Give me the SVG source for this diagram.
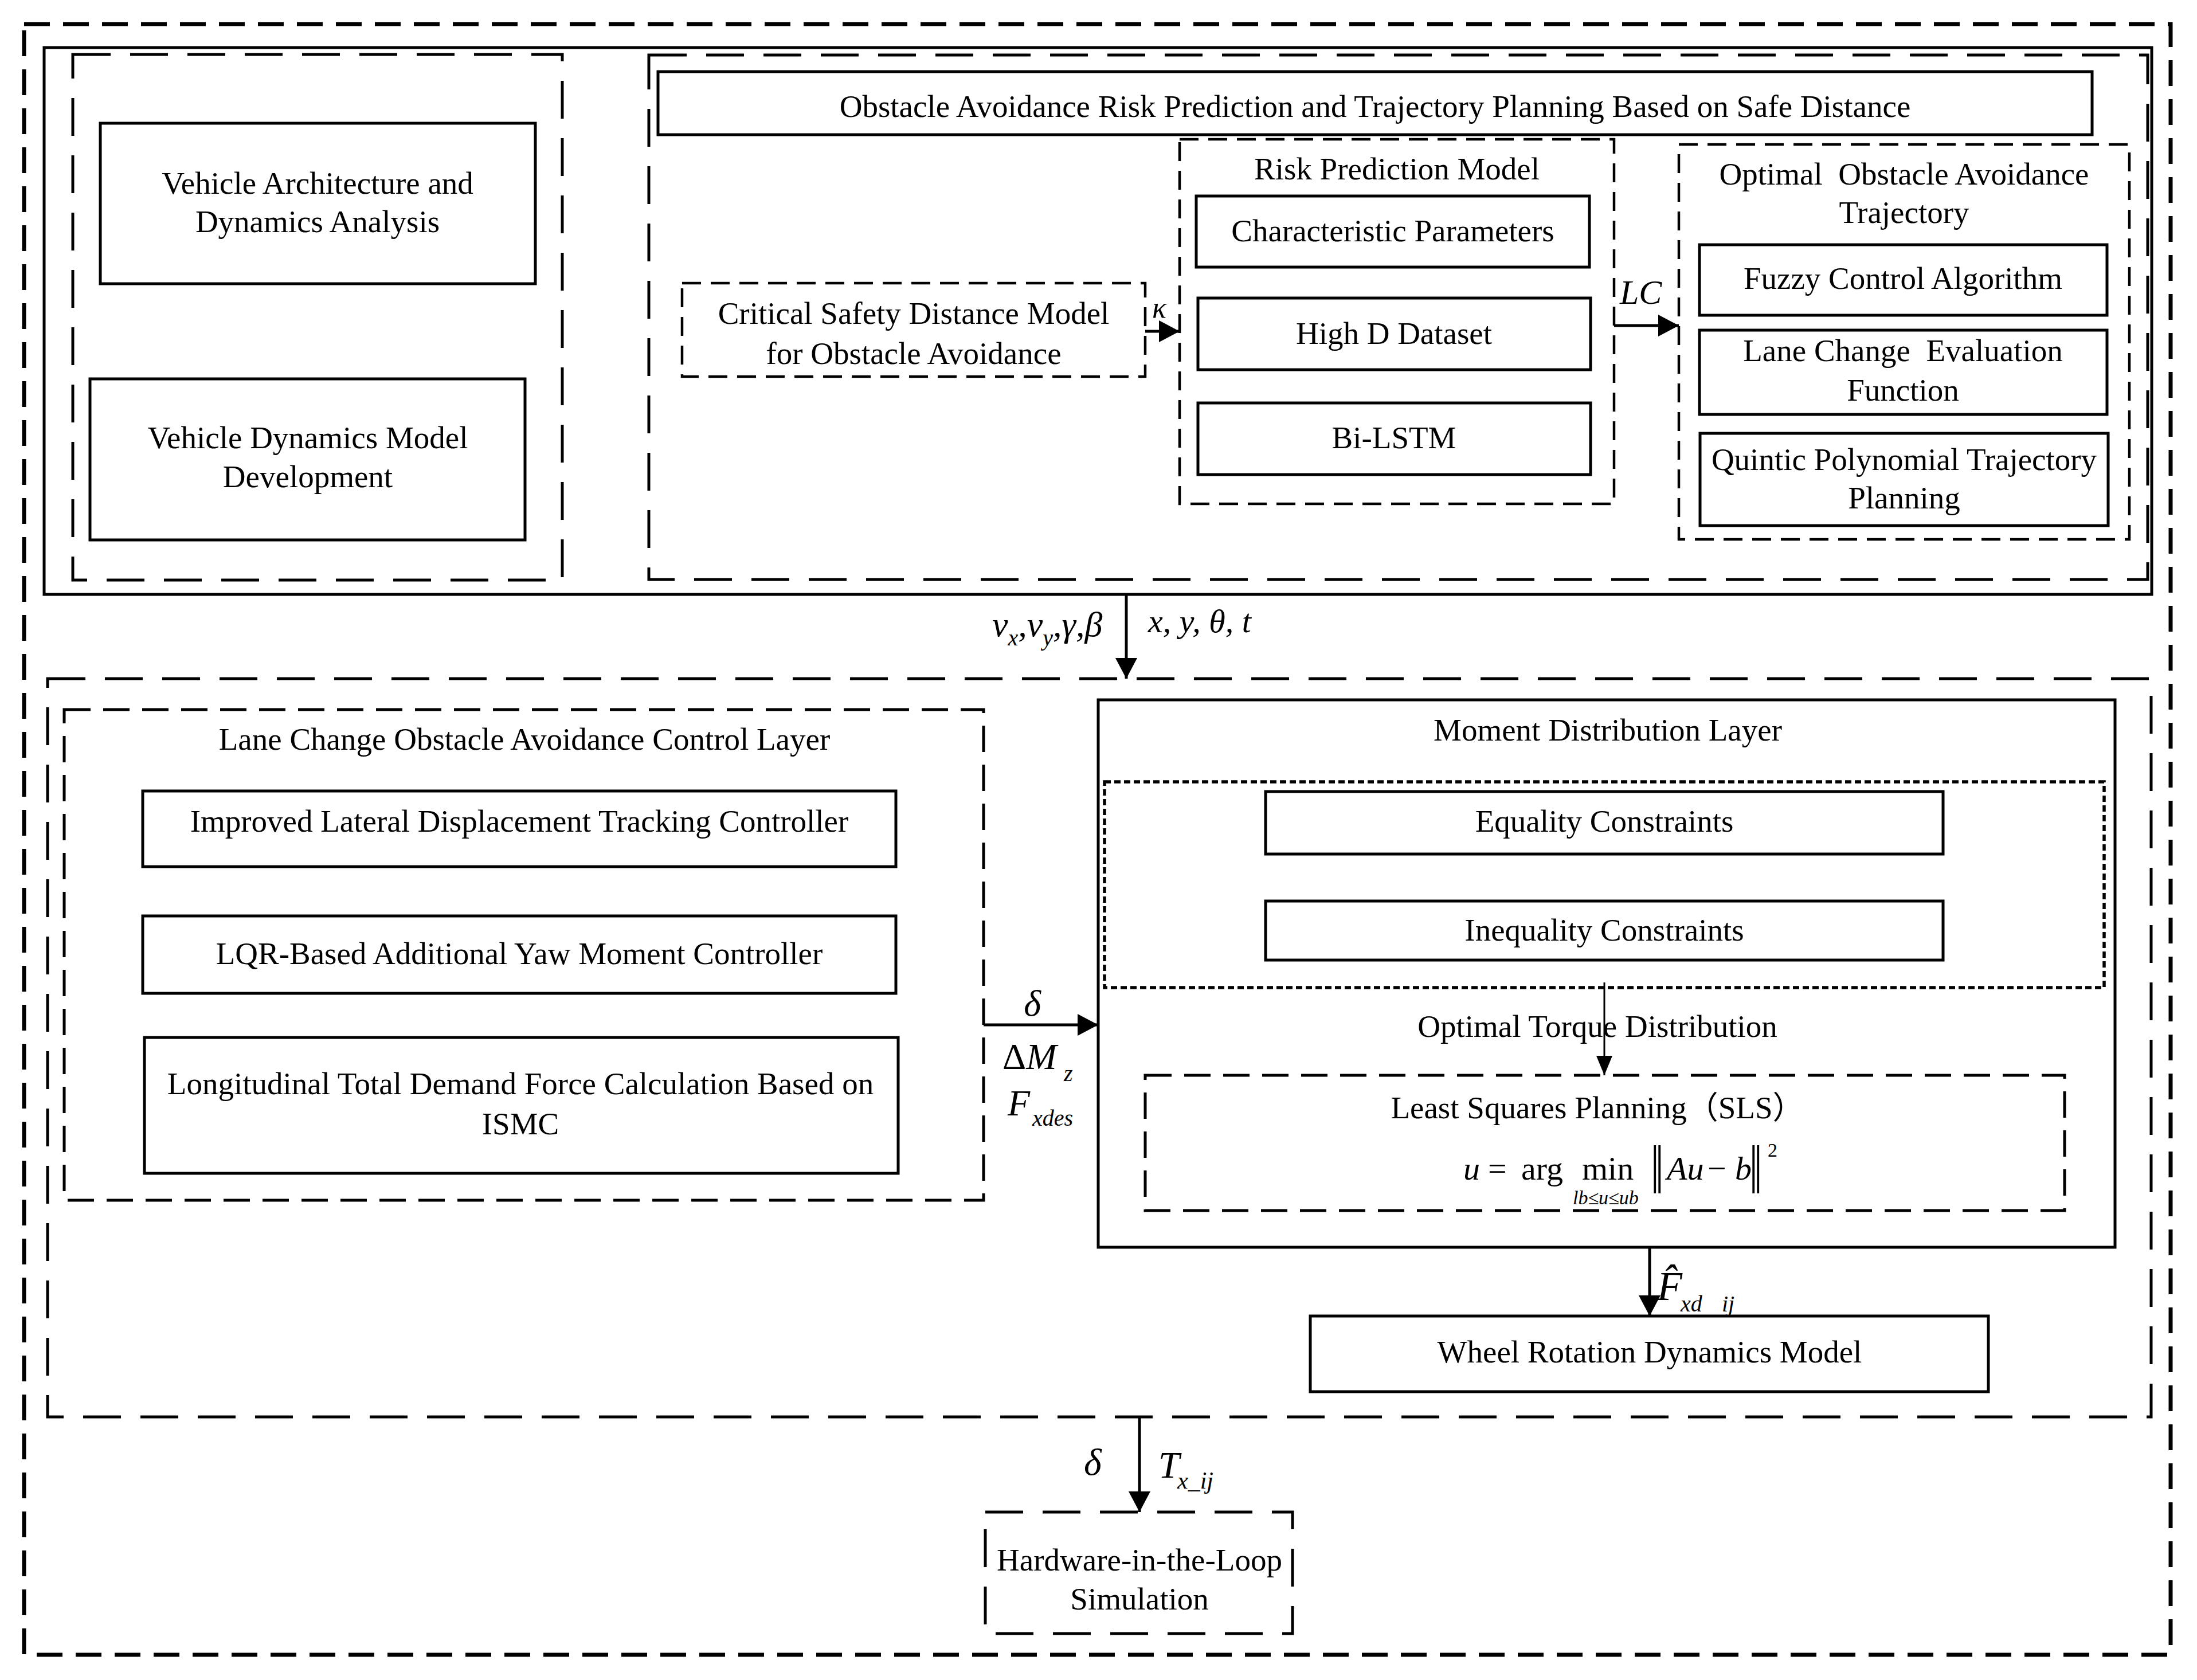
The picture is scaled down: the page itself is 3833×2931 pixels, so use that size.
<svg xmlns="http://www.w3.org/2000/svg" width="3833" height="2931" viewBox="0 0 3833 2931">
<defs>
<style>
.bg{fill:#fff}
.box{fill:none;stroke:#000;stroke-width:5}
.d-outer{fill:none;stroke:#000;stroke-width:7;stroke-dasharray:45 23}
.d-big{fill:none;stroke:#000;stroke-width:5;stroke-dasharray:66 34}
.d-med{fill:none;stroke:#000;stroke-width:5;stroke-dasharray:46 22}
.d-sm{fill:none;stroke:#000;stroke-width:4.5;stroke-dasharray:33 17}
.dot{fill:none;stroke:#000;stroke-width:5.5;stroke-dasharray:11 6}
.conn{fill:none;stroke:#000;stroke-width:5}
.conn-thin{fill:none;stroke:#000;stroke-width:3}
text{font-family:"Liberation Serif","Times New Roman",serif;font-size:55px;fill:#000}
.c{text-anchor:middle}
.it{font-style:italic}
.pre{white-space:pre}
.cjk{font-family:"Liberation Serif","Noto Sans CJK SC",serif}
</style>
<marker id="ah" markerUnits="userSpaceOnUse" markerWidth="38" markerHeight="38" refX="36" refY="19" orient="auto"><path d="M0,0 L36,19 L0,38 z" fill="#000"/></marker>
<marker id="ahs" markerUnits="userSpaceOnUse" markerWidth="36" markerHeight="28" refX="34" refY="14" orient="auto"><path d="M0,0 L34,14 L0,28 z" fill="#000"/></marker>
</defs>
<rect class="bg" x="0" y="0" width="3833" height="2931"/>

<g id="outer-frame"><rect class="d-outer" x="42" y="42" width="3745" height="2845"/></g>

<g id="top-layer"><rect class="box" x="77" y="83" width="3677" height="954"/></g>

<g id="vehicle-group"><rect class="d-big" x="127" y="95" width="854" height="917"/></g>

<g id="vehicle-architecture">
<rect class="box" x="175" y="215" width="759" height="280"/>
<text class="c" x="554" y="338">Vehicle Architecture and</text>
<text class="c" x="554" y="405">Dynamics Analysis</text>
</g>

<g id="vehicle-dynamics-model">
<rect class="box" x="157" y="661" width="759" height="281"/>
<text class="c" x="537" y="782">Vehicle Dynamics Model</text>
<text class="c" x="537" y="850">Development</text>
</g>

<g id="planning-group"><rect class="d-big" x="1132" y="96" width="2615" height="915"/></g>

<g id="planning-title">
<rect class="box" x="1148" y="125" width="2502" height="110"/>
<text class="c" x="2399" y="204">Obstacle Avoidance Risk Prediction and Trajectory Planning Based on Safe Distance</text>
</g>

<g id="critical-safety-distance">
<rect class="d-sm" x="1190" y="494" width="808" height="163"/>
<text class="c" x="1594" y="565">Critical Safety Distance Model</text>
<text class="c" x="1594" y="635">for Obstacle Avoidance</text>
</g>

<g id="risk-prediction-model">
<rect class="d-sm" x="2058" y="243" width="758" height="636"/>
<text class="c" x="2437" y="313">Risk Prediction Model</text>
</g>

<g id="characteristic-parameters">
<rect class="box" x="2087" y="342" width="686" height="124"/>
<text class="c" x="2430" y="421">Characteristic Parameters</text>
</g>

<g id="highd-dataset">
<rect class="box" x="2090" y="520" width="685" height="125"/>
<text class="c" x="2432" y="600">High D Dataset</text>
</g>

<g id="bi-lstm">
<rect class="box" x="2090" y="703" width="685" height="125"/>
<text class="c" x="2432" y="782">Bi-LSTM</text>
</g>

<g id="optimal-trajectory">
<rect class="d-sm" x="2929" y="252" width="786" height="689"/>
<text class="c pre" x="3322" y="322">Optimal  Obstacle Avoidance</text>
<text class="c" x="3322" y="389">Trajectory</text>
</g>

<g id="fuzzy-control">
<rect class="box" x="2965" y="427" width="711" height="123"/>
<text class="c" x="3320" y="504">Fuzzy Control Algorithm</text>
</g>

<g id="lane-change-evaluation">
<rect class="box" x="2965" y="576" width="711" height="147"/>
<text class="c pre" x="3320" y="630">Lane Change  Evaluation</text>
<text class="c" x="3320" y="699">Function</text>
</g>

<g id="quintic-polynomial">
<rect class="box" x="2966" y="756" width="712" height="161"/>
<text class="c" x="3322" y="820">Quintic Polynomial Trajectory</text>
<text class="c" x="3322" y="887">Planning</text>
</g>

<g id="control-group"><rect class="d-big" x="83" y="1184" width="3670" height="1288"/></g>

<g id="lane-change-control-layer">
<rect class="d-med" x="112" y="1238" width="1604" height="856"/>
<text class="c" x="915" y="1308">Lane Change Obstacle Avoidance Control Layer</text>
</g>

<g id="lateral-tracking-controller">
<rect class="box" x="249" y="1380" width="1314" height="132"/>
<text class="c" x="906" y="1451">Improved Lateral Displacement Tracking Controller</text>
</g>

<g id="lqr-yaw-controller">
<rect class="box" x="249" y="1598" width="1314" height="135"/>
<text class="c" x="906" y="1682">LQR-Based Additional Yaw Moment Controller</text>
</g>

<g id="longitudinal-force">
<rect class="box" x="252" y="1810" width="1315" height="237"/>
<text class="c" x="908" y="1909">Longitudinal Total Demand Force Calculation Based on</text>
<text class="c" x="908" y="1979">ISMC</text>
</g>

<g id="moment-distribution-layer">
<rect class="box" x="1916" y="1221" width="1774" height="955"/>
<text class="c" x="2805" y="1292">Moment Distribution Layer</text>
<rect class="dot" x="1927" y="1364" width="1744" height="359"/>
<text class="c" x="2787" y="1809">Optimal Torque Distribution</text>
</g>

<g id="equality-constraints">
<rect class="box" x="2208" y="1381" width="1182" height="109"/>
<text class="c" x="2799" y="1451">Equality Constraints</text>
</g>

<g id="inequality-constraints">
<rect class="box" x="2208" y="1572" width="1182" height="103"/>
<text class="c" x="2799" y="1641">Inequality Constraints</text>
</g>

<g id="least-squares-planning">
<rect class="d-med" x="1998" y="1876" width="1604" height="236"/>
<text class="c cjk" x="2787" y="1951">Least Squares Planning（SLS）</text>
<text class="it" x="2553" y="2058" style="font-size:58px">u</text>
<text x="2596" y="2058" style="font-size:58px">=</text>
<text x="2654" y="2058" style="font-size:58px">arg</text>
<text x="2760" y="2058" style="font-size:58px">min</text>
<text class="it" x="2744" y="2101" style="font-size:34px">lb≤u≤ub</text>
<text transform="translate(2880,2082) scale(1,1.52)" style="font-size:80px">‖</text>
<text class="it" x="2908" y="2058" style="font-size:58px">Au</text>
<text x="2979" y="2058" style="font-size:58px">−</text>
<text class="it" x="3027" y="2058" style="font-size:58px">b</text>
<text transform="translate(3052,2082) scale(1,1.52)" style="font-size:80px">‖</text>
<text x="3084" y="2018" style="font-size:34px">2</text>
</g>

<g id="wheel-rotation-model">
<rect class="box" x="2286" y="2296" width="1183" height="132"/>
<text class="c" x="2878" y="2377">Wheel Rotation Dynamics Model</text>
</g>

<g id="hil-simulation">
<rect class="d-big" x="1719" y="2638" width="536" height="212"/>
<text class="c" x="1988" y="2740">Hardware-in-the-Loop</text>
<text class="c" x="1988" y="2808">Simulation</text>
</g>

<g id="connectors">
<line class="conn" x1="1998" y1="578" x2="2058" y2="578" marker-end="url(#ah)"/>
<text class="it" x="2010" y="554" style="font-size:52px">κ</text>

<line class="conn" x1="2816" y1="568" x2="2929" y2="568" marker-end="url(#ah)"/>
<text class="it" x="2826" y="530" style="font-size:60px">LC</text>

<line class="conn" x1="1965" y1="1037" x2="1965" y2="1184" marker-end="url(#ah)"/>
<text class="it" x="1731" y="1110" style="font-size:62px">v<tspan dy="16" style="font-size:40px">x</tspan><tspan dy="-16">,v</tspan><tspan dy="16" style="font-size:40px">y</tspan><tspan dy="-16">,γ,β</tspan></text>
<text class="it pre" x="2003" y="1103" style="font-size:58px">x, y, θ, t</text>

<line class="conn" x1="1716" y1="1788" x2="1916" y2="1788" marker-end="url(#ah)"/>
<text class="it c" x="1801" y="1772" style="font-size:64px">δ</text>
<text x="1749" y="1865" style="font-size:64px">Δ<tspan class="it">M</tspan></text>
<text class="it" x="1856" y="1886" style="font-size:40px">z</text>
<text class="it" x="1758" y="1946" style="font-size:64px">F</text>
<text class="it" x="1801" y="1964" style="font-size:40px">xdes</text>

<line class="conn-thin" x1="2799" y1="1714" x2="2799" y2="1876" marker-end="url(#ahs)"/>

<line class="conn" x1="2878" y1="2176" x2="2878" y2="2296" marker-end="url(#ah)"/>
<text class="it" x="2891" y="2268" style="font-size:72px">F̂</text>
<text class="it" x="2932" y="2288" style="font-size:40px">xd</text>
<text class="it" x="2970" y="2292" style="font-size:40px">_</text>
<text class="it" x="3004" y="2288" style="font-size:40px">ij</text>

<line class="conn" x1="1988" y1="2472" x2="1988" y2="2638" marker-end="url(#ah)"/>
<text class="it" x="1891" y="2573" style="font-size:66px">δ</text>
<text class="it" x="2021" y="2578" style="font-size:66px">T</text>
<text class="it" x="2054" y="2597" style="font-size:42px">x_ij</text>
</g>
</svg>
